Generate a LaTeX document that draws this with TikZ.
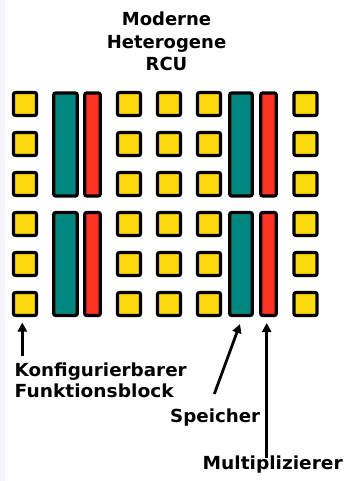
\documentclass[tikz,border=0pt]{standalone}
\usepackage{fontspec}
\setmainfont{DejaVu Sans}
\usetikzlibrary{arrows.meta,calc}
\definecolor{clbyellow}{HTML}{FFD910}
\definecolor{memteal}{HTML}{00877F}
\definecolor{mulred}{HTML}{FF3322}
\definecolor{edgegray}{HTML}{F6F6FA}
% set a label to a fixed width, keeping its height
\newcommand{\fitw}[2]{\resizebox{#1}{\height}{#2}}
\begin{document}
\begin{tikzpicture}[x=1pt,y=-1pt,
  block/.style={draw=black,line width=3.2pt,rounded corners=2pt,inner sep=0pt,outer sep=0pt},
  clb/.style={block,fill=clbyellow,minimum width=23pt,minimum height=23pt},
  mem/.style={block,fill=memteal,minimum width=23.5pt,minimum height=103pt},
  mul/.style={block,fill=mulred,minimum width=15.5pt,minimum height=103pt},
  lbl/.style={inner sep=0pt,font=\bfseries\fontsize{18}{21.5}\selectfont},
  arr/.style={line width=2.8pt,-{Triangle[length=9pt,width=9pt]}}]
  % canvas
  \useasboundingbox (0,0) rectangle (347,481);
  \fill[white] (0,0) rectangle (347,481);
  \fill[edgegray] (0,0) rectangle (5,481);

  % title
  \node[lbl,anchor=base] (t1) at (166.5,26) {Moderne};
  \node[lbl,anchor=base] (t2) at (166.5,48.5) {Heterogene};
  \node[lbl,anchor=base] (t3) at (166.5,71) {RCU};

  % configurable function blocks, 5 columns x 6 rows
  \foreach \c/\x in {1/25,2/129,3/169,4/209,5/305.5}{
    \foreach \r/\y in {1/104,2/144,3/184,4/224,5/264,6/304}{
      \node[clb] (clb-\c-\r) at (\x,\y) {};
    }
  }

  % memory and multiplier columns
  \node[mem] (mem1a) at (65.5,144.5) {};
  \node[mem] (mem1b) at (65.5,264) {};
  \node[mul] (mul1a) at (92.5,144.5) {};
  \node[mul] (mul1b) at (92.5,264) {};
  \node[mem,minimum width=22.5pt] (mem2a) at (241,144.5) {};
  \node[mem,minimum width=22.5pt] (mem2b) at (241,264) {};
  \node[mul] (mul2a) at (268.5,144.5) {};
  \node[mul] (mul2b) at (268.5,264) {};

  % labels
  \node[lbl,anchor=base west] (lclb1) at (14.5,376) {\fitw{172pt}{Konfigurierbarer}};
  \node[lbl,anchor=base west] (lclb2) at (14.5,397.5) {\fitw{159pt}{Funktionsblock}};
  \node[lbl,anchor=base west] (lmem) at (170,422.5) {\fitw{90pt}{Speicher}};
  \node[lbl,anchor=base west] (lmul) at (202.5,469) {\fitw{140pt}{Multiplizierer}};

  % pointers
  \coordinate (pclb) at (22.3,356);
  \coordinate (pmem) at (214.3,394);
  \coordinate (pmul) at (266.7,458);
  \draw[arr] (pclb) -- ($(pclb |- clb-1-6.south)+(0,7)$);
  \draw[arr] (pmem) -- ($(mem2b.south)+(-1,8.5)$);
  \draw[arr] (pmul) -- ($(pmul |- mul2b.south)+(0,7.5)$);
\end{tikzpicture}
\end{document}
